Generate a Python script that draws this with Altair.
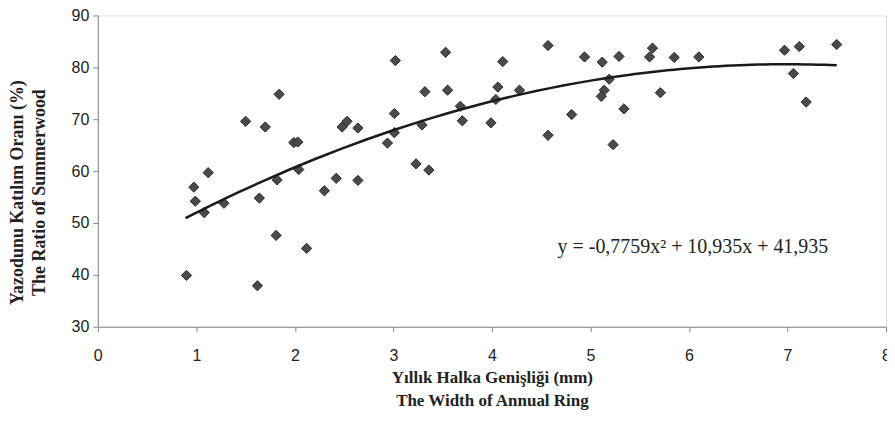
import altair as alt
import pandas as pd

ring_width = [0.90, 0.975, 0.99, 1.08, 1.12, 1.28, 1.50, 1.62, 1.64, 1.70, 1.84, 1.82, 1.81,
              1.99, 2.03, 2.04, 2.12, 2.30, 2.42, 2.48, 2.53, 2.64, 2.64, 2.94, 3.01, 3.01,
              3.02, 3.23, 3.29, 3.32, 3.36, 3.53, 3.55, 3.68, 3.70, 3.99, 4.04, 4.06, 4.11,
              4.28, 4.57, 4.57, 4.81, 4.94, 5.12, 5.14, 5.11, 5.19, 5.23, 5.29, 5.34, 5.60,
              5.63, 5.71, 5.85, 6.10, 6.97, 7.06, 7.12, 7.19, 7.50]
summerwood = [39.9, 56.9, 54.2, 52.0, 59.7, 53.8, 69.6, 37.9, 54.8, 68.5, 74.8, 58.3, 47.6,
              65.5, 65.6, 60.3, 45.1, 56.2, 58.6, 68.5, 69.6, 68.3, 58.2, 65.4, 71.1, 67.4,
              81.3, 61.4, 68.9, 75.3, 60.2, 82.9, 75.6, 72.5, 69.7, 69.3, 73.8, 76.2, 81.1,
              75.6, 84.2, 66.9, 70.9, 82.0, 81.0, 75.6, 74.4, 77.7, 65.1, 82.1, 72.0, 82.0,
              83.7, 75.1, 81.9, 82.0, 83.3, 78.8, 84.0, 73.3, 84.4]

x_ticks = [0, 1, 2, 3, 4, 5, 6, 7, 8]
y_ticks = [30, 40, 50, 60, 70, 80, 90]
equation = ["y = -0,7759x² + 10,935x + 41,935"]
eq_pos_x = [6.04]
eq_pos_y = [45.4]

df = pd.DataFrame({"x": ring_width, "y": summerwood})
eq_df = pd.DataFrame({"x": eq_pos_x, "y": eq_pos_y, "t": equation})

x_enc = alt.X("x:Q", scale=alt.Scale(domain=[0, 8], nice=False, zero=False),
              axis=alt.Axis(values=x_ticks, format="d", grid=False,
                            title=["Yıllık Halka Genişliği (mm)", "The Width of Annual Ring"],
                            titleFont="Liberation Serif", titleFontSize=17, titleFontWeight="bold",
                            titleColor="#222", titleLineHeight=23, titlePadding=6,
                            labelFont="Liberation Sans", labelFontSize=16, labelColor="#222",
                            labelPadding=16, tickSize=5, tickColor="#888",
                            domainColor="#888", labelFlush=False))
y_enc = alt.Y("y:Q", scale=alt.Scale(domain=[30, 90], nice=False, zero=False),
              axis=alt.Axis(values=y_ticks, grid=False,
                            title=["Yazodunu Katılım Oranı (%)", "The Ratio of Summerwood"],
                            titleFont="Liberation Serif", titleFontSize=18, titleFontWeight="bold",
                            titleColor="#222", titleLineHeight=22,
                            titleX=-71, titleY=177, titleAngle=270, titleAlign="center",
                            titleBaseline="bottom",
                            labelFont="Liberation Sans", labelFontSize=16, labelColor="#222",
                            labelPadding=4, tickSize=5, tickColor="#888",
                            domainColor="#888"))

points = alt.Chart(df).mark_point(shape="diamond", filled=True, size=105, fill="#4a4a4a",
                                  stroke="#2a2a2a", strokeWidth=1, opacity=1).encode(x=x_enc, y=y_enc)

trend = alt.Chart(df).transform_regression(
    "x", "y", method="poly", order=2, extent=[0.89, 7.5]
).mark_line(color="#1a1a1a", strokeWidth=2.5).encode(x="x:Q", y="y:Q")

text = alt.Chart(eq_df).mark_text(font="Liberation Serif", fontSize=20, color="#222").encode(
    x="x:Q", y="y:Q", text="t:N")

chart = alt.layer(points, trend, text).properties(
    width=790, height=312,
    autosize=alt.AutoSizeParams(type="none"),
    padding={"left": 90, "top": 7, "right": 1, "bottom": 90},
).configure_view(stroke=None).configure(background="white")

chart.save("out.html", embed_options={"renderer": "svg", "actions": False})
